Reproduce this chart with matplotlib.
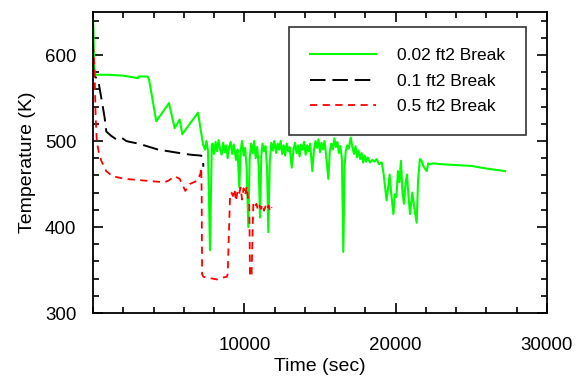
import matplotlib
matplotlib.use("Agg")
import matplotlib.pyplot as plt
from matplotlib.ticker import MultipleLocator, FixedLocator

plt.rcParams['font.family'] = ['Liberation Sans', 'DejaVu Sans']

# 0.02 ft2 break
t_small = [0, 30, 60, 110, 200, 1000, 2000, 2970, 3000, 3600, 3700, 4180, 5020, 5400, 5730, 5900, 6940,
           7270, 7400, 7500, 7600, 7731, 7850, 7900, 8000, 8100, 8200, 8300, 8400, 8500, 8600, 8700, 8800,
           8900, 9000, 9100, 9200, 9300, 9450, 9550, 9669, 9750, 9850, 9950, 10050, 10150, 10263, 10350,
           10450, 10550, 10650, 10750, 10850, 10950, 11036, 11120, 11200, 11300, 11400, 11500, 11585, 11680,
           11780, 11880, 11980, 12100, 12200, 12300, 12400, 12500, 12600, 12700, 12800, 12900, 13000, 13130,
           13250, 13350, 13450, 13550, 13650, 13750, 13850, 13950, 14050, 14150, 14250, 14350, 14492, 14600,
           14700, 14800, 14900, 15000, 15100, 15200, 15300, 15400, 15550, 15650, 15750, 15850, 15950, 16050,
           16150, 16250, 16350, 16450, 16541, 16620, 16700, 16800, 16900, 17030, 17150, 17250, 17350, 17450,
           17550, 17650, 17750, 17850, 17950, 18050, 18150, 18300, 18450, 18600, 18750, 18900, 19080, 19200,
           19300, 19400, 19500, 19600, 19700, 19850, 19950, 20050, 20150, 20250, 20350, 20450, 20550, 20650,
           20750, 20850, 20950, 21100, 21250, 21388, 21480, 21600, 21718, 21850, 22050, 22150, 22270, 22500,
           23000, 24000, 25000, 26000, 27225]
T_small = [640, 630, 600, 578, 577, 577, 576, 573, 575, 575, 572, 523, 544, 515, 525, 508, 533,
           496, 490, 500, 488, 373, 495, 497, 485, 499, 488, 501, 490, 484, 498, 487, 495,
           480, 493, 499, 485, 496, 478, 490, 446, 488, 500, 483, 492, 470, 400, 478,
           497, 486, 500, 480, 493, 470, 411, 482, 497, 488, 494, 470, 394, 475,
           498, 489, 500, 486, 497, 490, 500, 485, 495, 483, 497, 488, 493, 469,
           490, 498, 486, 495, 482, 496, 490, 499, 484, 495, 488, 497, 465, 489,
           500, 492, 502, 487, 498, 490, 500, 484, 456, 488, 497, 490, 503, 493,
           499, 486, 494, 478, 371, 470, 488, 495, 491, 504, 492, 485, 494, 481,
           489, 479, 486, 475, 483, 476, 481, 475, 478, 476, 479, 473, 475, 462,
           446, 431, 445, 461, 440, 415, 438, 435, 465, 452, 477, 440, 427, 450,
           461, 435, 415, 440, 420, 405, 454, 479, 477, 470, 465, 474, 473, 474,
           473, 472, 471, 468, 465]

# 0.1 ft2 break
t_mid = [0, 60, 110, 330, 550, 770, 880, 1200, 1530, 1870, 2200, 2420, 3000, 4300, 6070, 6500, 7150, 7270, 7290]
T_mid = [590, 578, 575, 572, 550, 527, 511, 506, 502, 504, 500, 499, 497, 490, 485, 484, 483, 480, 470]

# 0.5 ft2 break
t_large = [0, 50, 110, 170, 250, 400, 550, 870, 1300, 2100, 3400, 4700, 5000, 5400, 5730, 6100, 6400,
           6900, 7100, 7150, 7180, 7210, 7300, 7600, 7900, 8200, 8500, 8834, 8900, 9053, 9150, 9250,
           9350, 9450, 9550, 9650, 9750, 9850, 9950, 10050, 10150, 10263, 10330, 10375, 10480, 10593,
           10700, 10800, 10900, 11000, 11100, 11200, 11300, 11400, 11500, 11600, 11700, 11808]
T_large = [612, 600, 577, 531, 500, 485, 477, 465, 459, 456, 454, 452, 454, 459, 456, 442, 450,
           454, 462, 469, 440, 345, 342, 341, 340, 339, 341, 342, 345, 434, 440, 436,
           444, 430, 442, 438, 446, 432, 445, 437, 447, 431, 425, 342, 345, 427,
           423, 427, 420, 425, 421, 426, 419, 424, 420, 425, 418, 423]

labels = ["0.02 ft2 Break", "0.1 ft2 Break", "0.5 ft2 Break"]

fig = plt.figure(figsize=(5.84, 3.78), dpi=100)
ax = fig.add_axes([93/584, 1-313/378, (547-93)/584, (313-12)/378])

ax.plot(t_small, T_small, color='#00ff00', lw=1.5, label=labels[0])
ax.plot(t_mid, T_mid, color='black', lw=1.4, dashes=(8, 3.5), label=labels[1])
ax.plot(t_large, T_large, color='#ff0000', lw=1.3, dashes=(4, 3), label=labels[2])

ax.set_xlim(0, 30000)
ax.set_ylim(300, 650)
ax.xaxis.set_major_locator(FixedLocator([10000, 20000, 30000]))
ax.xaxis.set_minor_locator(MultipleLocator(2000))
ax.yaxis.set_major_locator(FixedLocator([300, 400, 500, 600]))
ax.yaxis.set_minor_locator(MultipleLocator(20))
ax.tick_params(which='both', direction='in', top=True, right=True, width=1.2, colors='black')
ax.tick_params(which='major', length=7.5)
ax.tick_params(which='minor', length=4.5)
ax.tick_params(axis='x', which='major', labelsize=13.5, pad=17)
ax.tick_params(axis='y', which='major', labelsize=13.5, pad=12)
for s in ax.spines.values():
    s.set_linewidth(1.3)

ax.set_xlabel("Time (sec)", fontsize=14, labelpad=3)
ax.set_ylabel("Temperature (K)", fontsize=14, labelpad=6)

leg = ax.legend(loc='upper left', bbox_to_anchor=(0.432, 0.95), borderaxespad=0, fontsize=12.5,
                frameon=True, fancybox=False, edgecolor='black', handlelength=3.8, handletextpad=1.2,
                borderpad=1.2, labelspacing=0.6)
leg.get_frame().set_linewidth(1.2)

fig.savefig("out.png", dpi=100)
